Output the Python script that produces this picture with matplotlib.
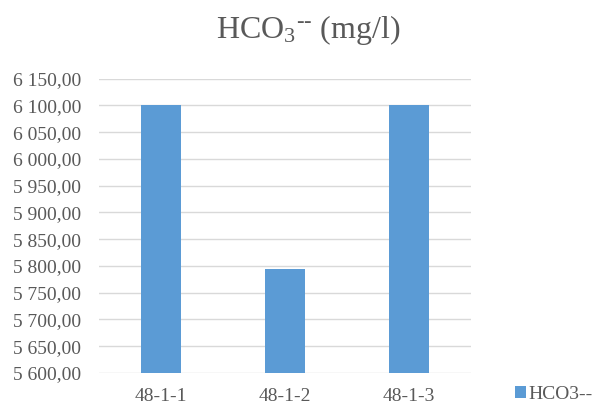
import matplotlib
matplotlib.use("Agg")
import matplotlib.pyplot as plt
from matplotlib.ticker import FuncFormatter, MultipleLocator

# sample ids and bicarbonate concentrations (mg/l)
samples = ["48-1-1", "48-1-2", "48-1-3"]
hco3 = [6100.0, 5794.0, 6100.0]
series_name = "HCO3--"

plt.rcParams["font.family"] = ["Liberation Serif", "DejaVu Serif"]
plt.rcParams["mathtext.fontset"] = "custom"
plt.rcParams["mathtext.rm"] = "Liberation Serif"
plt.rcParams["mathtext.it"] = "Liberation Serif"
grey = "#595959"
bar_color = "#5b9bd5"

fig = plt.figure(figsize=(5.98, 4.05), dpi=100)
ax = fig.add_axes([0.1656, 0.079, 0.622, 0.727])

x = range(len(samples))
ax.bar(x, hco3, width=0.315, color=bar_color, zorder=3, label=series_name)

ax.set_ylim(5600, 6150)
ax.set_xlim(-0.5, len(samples) - 0.5)
ax.yaxis.set_major_locator(MultipleLocator(50))


def fmt(v, pos):
    s = f"{v:,.2f}"
    return s.replace(",", " ").replace(".", ",")


ax.yaxis.set_major_formatter(FuncFormatter(fmt))
ax.set_xticks(list(x))
ax.set_xticklabels(samples)
ax.tick_params(axis="both", length=0, labelsize=14, colors=grey)
ax.tick_params(axis="x", pad=10.5)
ax.tick_params(axis="y", pad=13)
ax.grid(axis="y", color="#d9d9d9", linewidth=1, zorder=0)
for s in ax.spines.values():
    s.set_visible(False)

fig.text(0.516, 0.906, r"HCO$_3$$^{\text{--}}$ (mg/l)", ha="center", va="baseline",
         fontsize=23, color=grey, math_fontfamily="custom")

leg = fig.legend(loc="center left", bbox_to_anchor=(0.861, 0.027), frameon=False,
                 fontsize=14, handlelength=0.55, handleheight=0.55,
                 handletextpad=0.15, borderaxespad=0, borderpad=0)
for t in leg.get_texts():
    t.set_color(grey)

fig.savefig("out.png", dpi=100)
